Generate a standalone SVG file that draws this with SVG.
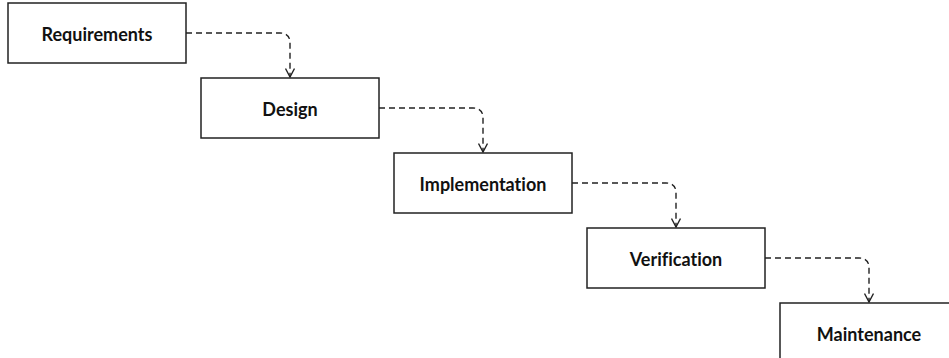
<svg xmlns="http://www.w3.org/2000/svg" width="949" height="358" viewBox="0 0 949 358">
<style>
.box{fill:#fff;stroke:#222;stroke-width:1.5}
.lbl{font-family:Lato,"Liberation Sans",sans-serif;font-weight:bold;font-size:18px;fill:#111;text-anchor:middle;dominant-baseline:central;font-variant-ligatures:none}
.edge{fill:none;stroke:#222;stroke-width:1.4;stroke-dasharray:6,4}
</style>
<defs>
<marker id="arr" viewBox="0 0 10 10" refX="9.5" refY="5" markerWidth="10" markerHeight="10" markerUnits="userSpaceOnUse" orient="auto">
<path d="M1,0.5 L9.5,5 L1,9.5" fill="none" stroke="#222" stroke-width="1.4"/>
</marker>
</defs>
<rect width="949" height="358" fill="#fff"/>
<g id="n-requirements"><rect class="box" x="8" y="3" width="178" height="60"/><text class="lbl" x="97" y="34">Requirements</text></g>
<g id="n-design"><rect class="box" x="201" y="78" width="178" height="60"/><text class="lbl" x="290" y="109">Design</text></g>
<g id="n-implementation"><rect class="box" x="394" y="153" width="178" height="60"/><text class="lbl" x="483" y="184">Implementation</text></g>
<g id="n-verification"><rect class="box" x="587" y="228" width="178" height="60"/><text class="lbl" x="676" y="259">Verification</text></g>
<g id="n-maintenance"><rect class="box" x="780" y="303" width="178" height="60"/><text class="lbl" x="869" y="334">Maintenance</text></g>
<g id="connectors">
<path class="edge" marker-end="url(#arr)" d="M186,33 H280 Q290,33 290,43 V77"/>
<path class="edge" marker-end="url(#arr)" d="M379,108 H473 Q483,108 483,118 V152"/>
<path class="edge" marker-end="url(#arr)" d="M572,183 H666 Q676,183 676,193 V227"/>
<path class="edge" marker-end="url(#arr)" d="M765,258 H859 Q869,258 869,268 V302"/>
</g>
</svg>
